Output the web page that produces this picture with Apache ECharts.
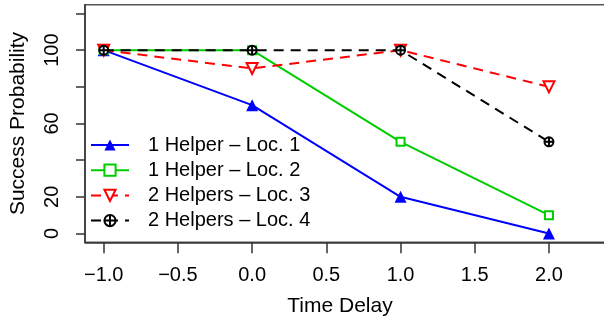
<!DOCTYPE html>
<html>
<head>
<meta charset="utf-8">
<script src="https://cdn.jsdelivr.net/npm/echarts@6/dist/echarts.min.js"></script>
<style>
  html, body { margin: 0; padding: 0; background: #fff; }
  #chart { width: 604px; height: 327px; }
</style>
</head>
<body>
<div id="chart"></div>
<script>
// time delays on the x axis
const delays = [-1, 0, 1, 2];
// success probability per location
const loc1 = [100, 70, 20, 0];
const loc2 = [100, 100, 50, 10];
const loc3 = [100, 90, 100, 80];
const loc4 = [100, 100, 100, 50];
const seriesNames = ['1 Helper – Loc. 1', '1 Helper – Loc. 2', '2 Helpers – Loc. 3', '2 Helpers – Loc. 4'];
const xTicks = [-1, -0.5, 0, 0.5, 1, 1.5, 2];
const yTicks = [0, 20, 40, 60, 80, 100, 120];
const yLabels = [0, 20, 60, 100];

const font = 'Liberation Sans, Arial, Helvetica, sans-serif';
const pairs = vals => delays.map((d, i) => [d, vals[i]]);
const circlePlus = 'path://M0,10 A10,10 0 1,1 20,10 A10,10 0 1,1 0,10 Z M0,10 L20,10 M10,0 L10,20';

const chart = echarts.init(document.getElementById('chart'));

const option = {
  backgroundColor: '#fff',
  animation: false,
  grid: {
    left: 85, top: 4.7, width: 530, height: 237.6,
    outerBoundsMode: 'none',
    show: true, borderColor: '#555', borderWidth: 1.5
  },
  legend: {
    orient: 'vertical',
    left: 90, top: 135,
    padding: 0,
    itemWidth: 38, itemHeight: 14, itemGap: 5.2,
    textStyle: { fontFamily: font, fontSize: 20, color: '#000', lineHeight: 20, padding: [0, 0, 0, 14] },
    data: seriesNames
  },
  xAxis: {
    type: 'value',
    min: -1.126, max: 2.445,
    name: 'Time Delay', nameLocation: 'middle', nameGap: 53,
    nameTextStyle: { fontFamily: font, fontSize: 21, color: '#000', padding: [0, 20, 0, 0] },
    axisLine: { onZero: false, lineStyle: { color: '#333', width: 1.5 } },
    axisTick: { customValues: xTicks, length: 11, lineStyle: { color: '#333', width: 1.5 } },
    axisLabel: {
      customValues: xTicks, margin: 23,
      fontFamily: font, fontSize: 20, color: '#000',
      formatter: v => (v < 0 ? '\u2212' : '') + Math.abs(v).toFixed(1)
    },
    splitLine: { show: false }
  },
  yAxis: {
    type: 'value',
    min: -4.8, max: 124.8,
    name: 'Success Probability', nameLocation: 'middle', nameGap: 56, nameRotate: 90,
    nameTextStyle: { fontFamily: font, fontSize: 21, color: '#000' },
    axisLine: { onZero: false, lineStyle: { color: '#333', width: 1.5 } },
    axisTick: { customValues: yTicks, length: 9, lineStyle: { color: '#333', width: 1.5 } },
    axisLabel: {
      customValues: yLabels, rotate: 90, margin: 23,
      fontFamily: font, fontSize: 20, color: '#000'
    },
    splitLine: { show: false }
  },
  series: [
    {
      name: seriesNames[0], type: 'line', data: pairs(loc1),
      symbol: 'triangle', symbolSize: 12,
      lineStyle: { color: '#0000ff', width: 2 },
      itemStyle: { color: '#0000ff' }
    },
    {
      name: seriesNames[1], type: 'line', data: pairs(loc2),
      symbol: 'rect', symbolSize: 8,
      lineStyle: { color: '#00cd00', width: 2 },
      itemStyle: { color: '#fff', borderColor: '#00cd00', borderWidth: 2 }
    },
    {
      name: seriesNames[2], type: 'line', data: pairs(loc3),
      symbol: 'triangle', symbolSize: 11, symbolRotate: 180,
      lineStyle: { color: '#ff0000', width: 2, type: [10, 7] },
      itemStyle: { color: '#fff', borderColor: '#ff0000', borderWidth: 2 }
    },
    {
      name: seriesNames[3], type: 'line', data: pairs(loc4),
      symbol: circlePlus, symbolSize: 9,
      lineStyle: { color: '#000', width: 2, type: [10, 7] },
      itemStyle: { color: '#fff', borderColor: '#000', borderWidth: 2 }
    }
  ]
};

chart.setOption(option);
</script>
</body>
</html>
